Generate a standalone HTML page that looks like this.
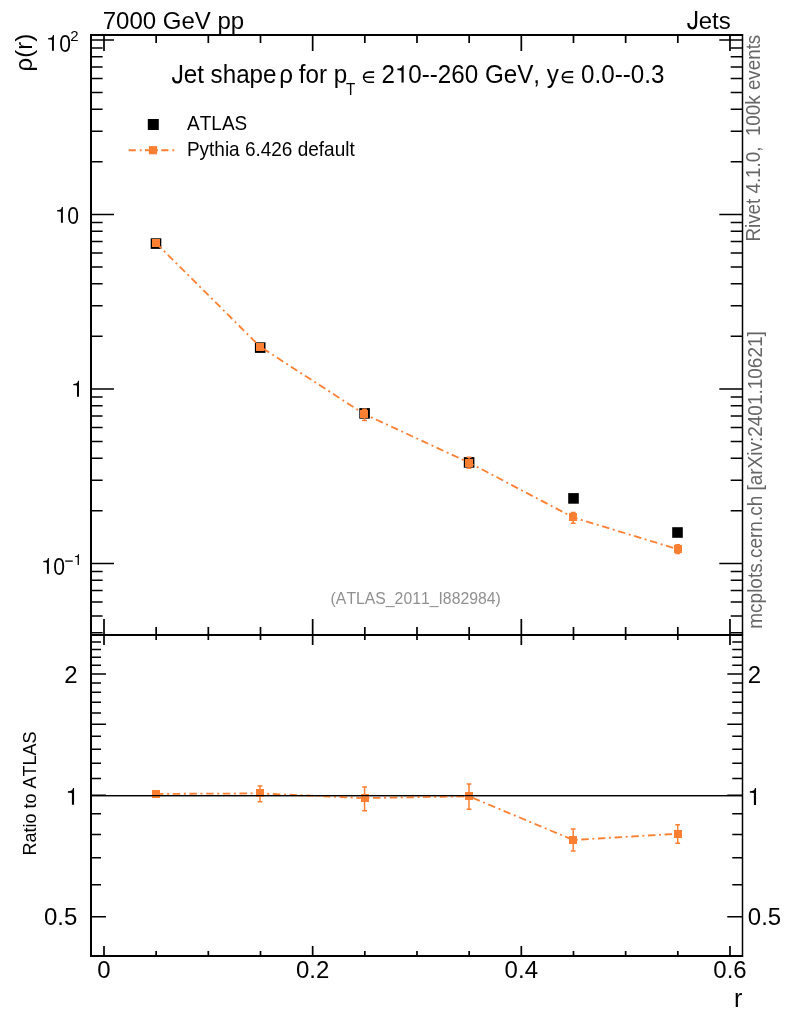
<!DOCTYPE html>
<html><head><meta charset="utf-8"><style>
html,body{margin:0;padding:0;background:#fff;}
body{width:786px;height:1024px;overflow:hidden;}
svg{display:block;font-family:"Liberation Sans",sans-serif;will-change:transform;font-kerning:none;}
</style></head><body>
<svg width="786" height="1024" viewBox="0 0 786 1024">
<rect width="786" height="1024" fill="#fff"/>
<path d="M90.0,35.0H743.05M90.0,635.0H743.05M90.0,956.0H743.05M91.0,34.0V957.0" fill="none" stroke="#000" stroke-width="2.0"/>
<path d="M742.5,34.0V957.0" fill="none" stroke="#000" stroke-width="1.5"/>
<path d="M91.0,632.84H102.6M742.3,632.84H730.6999999999999M91.0,615.93H102.6M742.3,615.93H730.6999999999999M91.0,602.11H102.6M742.3,602.11H730.6999999999999M91.0,590.43H102.6M742.3,590.43H730.6999999999999M91.0,580.31H102.6M742.3,580.31H730.6999999999999M91.0,571.38H102.6M742.3,571.38H730.6999999999999M91.0,563.40H114.0M742.3,563.40H719.3M91.0,510.87H102.6M742.3,510.87H730.6999999999999M91.0,480.14H102.6M742.3,480.14H730.6999999999999M91.0,458.34H102.6M742.3,458.34H730.6999999999999M91.0,441.43H102.6M742.3,441.43H730.6999999999999M91.0,427.61H102.6M742.3,427.61H730.6999999999999M91.0,415.93H102.6M742.3,415.93H730.6999999999999M91.0,405.81H102.6M742.3,405.81H730.6999999999999M91.0,396.88H102.6M742.3,396.88H730.6999999999999M91.0,388.90H114.0M742.3,388.90H719.3M91.0,336.37H102.6M742.3,336.37H730.6999999999999M91.0,305.64H102.6M742.3,305.64H730.6999999999999M91.0,283.84H102.6M742.3,283.84H730.6999999999999M91.0,266.93H102.6M742.3,266.93H730.6999999999999M91.0,253.11H102.6M742.3,253.11H730.6999999999999M91.0,241.43H102.6M742.3,241.43H730.6999999999999M91.0,231.31H102.6M742.3,231.31H730.6999999999999M91.0,222.38H102.6M742.3,222.38H730.6999999999999M91.0,214.40H114.0M742.3,214.40H719.3M91.0,161.87H102.6M742.3,161.87H730.6999999999999M91.0,131.14H102.6M742.3,131.14H730.6999999999999M91.0,109.34H102.6M742.3,109.34H730.6999999999999M91.0,92.43H102.6M742.3,92.43H730.6999999999999M91.0,78.61H102.6M742.3,78.61H730.6999999999999M91.0,66.93H102.6M742.3,66.93H730.6999999999999M91.0,56.81H102.6M742.3,56.81H730.6999999999999M91.0,47.88H102.6M742.3,47.88H730.6999999999999M91.0,39.90H114.0M742.3,39.90H719.3M91.0,916.71H106.0M742.3,916.71H727.3M91.0,884.77H101.0M742.3,884.77H732.3M91.0,857.77H101.0M742.3,857.77H732.3M91.0,834.38H101.0M742.3,834.38H732.3M91.0,813.75H101.0M742.3,813.75H732.3M91.0,795.30H106.0M742.3,795.30H727.3M91.0,778.61H101.0M742.3,778.61H732.3M91.0,763.37H101.0M742.3,763.37H732.3M91.0,749.35H101.0M742.3,749.35H732.3M91.0,736.37H101.0M742.3,736.37H732.3M91.0,724.28H106.0M742.3,724.28H727.3M91.0,712.98H101.0M742.3,712.98H732.3M91.0,702.36H101.0M742.3,702.36H732.3M91.0,692.35H101.0M742.3,692.35H732.3M91.0,682.88H101.0M742.3,682.88H732.3M91.0,673.89H106.0M742.3,673.89H727.3M91.0,665.35H101.0M742.3,665.35H732.3M91.0,657.20H101.0M742.3,657.20H732.3M91.0,649.42H101.0M742.3,649.42H732.3M91.0,641.96H101.0M742.3,641.96H732.3" fill="none" stroke="#000" stroke-width="1.5"/>
<path d="M104.00,35.0V51.0M104.00,635.0V619.0M104.00,635.0V645.0M104.00,956.0V946.0M156.16,35.0V43.0M156.16,635.0V627.0M156.16,635.0V640.0M156.16,956.0V951.0M208.33,35.0V43.0M208.33,635.0V627.0M208.33,635.0V640.0M208.33,956.0V951.0M260.50,35.0V43.0M260.50,635.0V627.0M260.50,635.0V640.0M260.50,956.0V951.0M312.66,35.0V51.0M312.66,635.0V619.0M312.66,635.0V645.0M312.66,956.0V946.0M364.82,35.0V43.0M364.82,635.0V627.0M364.82,635.0V640.0M364.82,956.0V951.0M416.99,35.0V43.0M416.99,635.0V627.0M416.99,635.0V640.0M416.99,956.0V951.0M469.16,35.0V43.0M469.16,635.0V627.0M469.16,635.0V640.0M469.16,956.0V951.0M521.32,35.0V51.0M521.32,635.0V619.0M521.32,635.0V645.0M521.32,956.0V946.0M573.49,35.0V43.0M573.49,635.0V627.0M573.49,635.0V640.0M573.49,956.0V951.0M625.65,35.0V43.0M625.65,635.0V627.0M625.65,635.0V640.0M625.65,956.0V951.0M677.82,35.0V43.0M677.82,635.0V627.0M677.82,635.0V640.0M677.82,956.0V951.0M729.98,35.0V51.0M729.98,635.0V619.0M729.98,635.0V645.0M729.98,956.0V946.0" fill="none" stroke="#000" stroke-width="1.7"/>
<path d="M91.0,795.65H742.3" stroke="#000" stroke-width="1.3"/>
<rect x="150.70" y="238.30" width="10.6" height="10.6" fill="#000"/>
<rect x="254.90" y="342.30" width="10.6" height="10.6" fill="#000"/>
<rect x="359.30" y="408.10" width="10.6" height="10.6" fill="#000"/>
<rect x="463.80" y="457.10" width="10.6" height="10.6" fill="#000"/>
<rect x="568.20" y="493.10" width="10.6" height="10.6" fill="#000"/>
<rect x="672.20" y="527.20" width="10.6" height="10.6" fill="#000"/>
<polyline points="156,243.0 260,346.6 364.5,414.2 469,462.6 573.2,517.4 677.7,549.2" fill="none" stroke="#fd7f31" stroke-width="1.8" stroke-dasharray="7.5 3.6 2 3.6"/>
<path d="M364.5,409.3V420.5M362.10,409.3H366.90M362.10,420.5H366.90M469,457.3V468.2M466.60,457.3H471.40M466.60,468.2H471.40M573.2,512.6V523.3M570.80,512.6H575.60M570.80,523.3H575.60M677.7,544.8V553.6M675.30,544.8H680.10M675.30,553.6H680.10" fill="none" stroke="#fd7f31" stroke-width="1.5"/>
<rect x="152" y="239" width="8" height="8" fill="#fd7f31"/>
<rect x="256" y="343" width="8" height="8" fill="#fd7f31"/>
<rect x="360" y="410" width="8" height="8" fill="#fd7f31"/>
<rect x="465" y="459" width="8" height="8" fill="#fd7f31"/>
<rect x="569" y="513" width="8" height="8" fill="#fd7f31"/>
<rect x="674" y="545" width="8" height="8" fill="#fd7f31"/>
<polyline points="156,793.9 260,793.4 364.6,798.1 469,796.3 573.2,840.0 677.7,833.7" fill="none" stroke="#fd7f31" stroke-width="1.8" stroke-dasharray="7.5 3.6 2 3.6"/>
<path d="M260,786V801.8M257.60,786H262.40M257.60,801.8H262.40M364.6,787V810.8M362.20,787H367.00M362.20,810.8H367.00M469,784V809.2M466.60,784H471.40M466.60,809.2H471.40M573.2,829.1V851.1M570.80,829.1H575.60M570.80,851.1H575.60M677.7,824.8V843.2M675.30,824.8H680.10M675.30,843.2H680.10" fill="none" stroke="#fd7f31" stroke-width="1.5"/>
<rect x="152" y="790" width="8" height="8" fill="#fd7f31"/>
<rect x="256" y="789" width="8" height="8" fill="#fd7f31"/>
<rect x="361" y="794" width="8" height="8" fill="#fd7f31"/>
<rect x="465" y="792" width="8" height="8" fill="#fd7f31"/>
<rect x="569" y="836" width="8" height="8" fill="#fd7f31"/>
<rect x="674" y="830" width="8" height="8" fill="#fd7f31"/>
<path d="M91.0,795.65H742.3" stroke="#000" stroke-width="1.3"/>
<rect x="147.8" y="119.0" width="11" height="11" fill="#000"/>
<path d="M128.7,150.2H175.5" stroke="#fd7f31" stroke-width="2" stroke-dasharray="7.1 4 1.8 3.4"/>
<rect x="148.9" y="146.1" width="8.2" height="8.2" fill="#fd7f31"/>
<text transform="translate(187.1,129.6) scale(1,1.03)" font-size="19" text-anchor="start" fill="#000" >ATLAS</text>
<text transform="translate(186.9,155.6) scale(1,1.03)" font-size="19" text-anchor="start" fill="#000" >Pythia 6.426 default</text>
<text transform="translate(102.7,28.7) scale(1,1.03)" font-size="24" text-anchor="start" fill="#000" >7000 GeV pp</text>
<path d="M180.96,64.96V76.91C180.96,81.75 178.54,82.47 177.33,82.47C174.91,82.47 173.15,80.78 173.15,77.27" fill="none" stroke="#000" stroke-width="2.27"/>
<text transform="translate(183.72,83.2) scale(1,1.03)" font-size="24.2" text-anchor="start" fill="#000" >et shape</text>
<text transform="translate(279.3,83.2) scale(1,1.03)" font-size="24.2" text-anchor="start" fill="#000" >&#961;</text>
<text transform="translate(298.86,83.2) scale(1,1.03)" font-size="24.2" text-anchor="start" fill="#000" >for</text>
<text transform="translate(333.64,83.2) scale(1,1.03)" font-size="24.2" text-anchor="start" fill="#000" >p</text>
<text transform="translate(346.06,95.2) scale(1,1.03)" font-size="15.2" text-anchor="start" fill="#000" >T</text>
<path d="M374.1,72.1H368.6A5.05,5.05 0 0 0 368.6,82.2H374.1M363.2,77.2H374.1" fill="none" stroke="#000" stroke-width="1.6"/>
<text transform="translate(381.38,83.2) scale(1,1.03)" font-size="24.2" text-anchor="start" fill="#000" >2</text>
<path d="M403.66,82.60V65.30H402.57C402.33,67.89 400.51,68.59 397.42,68.59V70.14C399.79,70.28 401.00,70.37 401.48,70.75V82.60Z" fill="#000"/>
<text transform="translate(408.294,83.2) scale(1,1.03)" font-size="24.2" text-anchor="start" fill="#000" >0--260 GeV, y</text>
<path d="M573.2,71.9H567.6A5.2,5.2 0 0 0 567.6,82.4H573.2M562.2,77.2H573.2" fill="none" stroke="#000" stroke-width="1.6"/>
<text transform="translate(581.05,83.2) scale(1,1.03)" font-size="24.2" text-anchor="start" fill="#000" >0.0--0.3</text>
<path d="M696.10,10.93V22.76C696.10,27.56 693.70,28.28 692.50,28.28C690.10,28.28 688.35,26.60 688.35,23.12" fill="none" stroke="#000" stroke-width="2.26"/>
<text transform="translate(730.7,29.0) scale(1,1.03)" font-size="24" text-anchor="end" fill="#000" >ets</text>
<text x="0" y="0" font-size="24" text-anchor="end" fill="#000" transform="translate(32,33.8) rotate(-90) scale(1,1.03)">&#961;(r)</text>
<text x="0" y="0" font-size="18" text-anchor="middle" fill="#000" transform="translate(36.4,793.6) rotate(-90) scale(1,1.03)">Ratio to ATLAS</text>
<text transform="translate(742.4,1007) scale(1,1.03)" font-size="25" text-anchor="end" fill="#000" >r</text>
<text transform="translate(67.28,224.0) scale(0.88,1.0)" font-size="24">0</text>
<text transform="translate(59.23,51.9) scale(0.88,1.0)" font-size="24">0</text>
<text transform="translate(70.25,40.8) scale(1,1.03)" font-size="15" text-anchor="start" fill="#000" >2</text>
<text transform="translate(53.28,575.0) scale(0.88,1.0)" font-size="24">0</text>
<rect x="65.2" y="560.45" width="7.6" height="1.3" fill="#000"/>
<text transform="translate(77.5,683) scale(1,1.03)" font-size="24" text-anchor="end" fill="#000" >2</text>
<text transform="translate(77.3,925.3) scale(1,1.03)" font-size="24" text-anchor="end" fill="#000" >0.5</text>
<text transform="translate(747.8,683) scale(1,1.03)" font-size="24" text-anchor="start" fill="#000" >2</text>
<text transform="translate(747.8,925.3) scale(1,1.03)" font-size="24" text-anchor="start" fill="#000" >0.5</text>
<path d="M62.88,222.80V206.96H61.89C61.67,209.34 60.02,209.97 57.20,209.97V211.40C59.36,211.52 60.46,211.60 60.90,211.95V222.80ZM78.98,396.87V380.83H77.99C77.77,383.24 76.12,383.88 73.30,383.88V385.32C75.46,385.45 76.56,385.53 77.00,385.88V396.87ZM53.92,50.87V34.96H52.93C52.71,37.35 51.06,37.98 48.24,37.98V39.41C50.40,39.54 51.50,39.62 51.94,39.97V50.87ZM48.90,573.72V557.94H47.91C47.69,560.31 46.04,560.94 43.22,560.94V562.36C45.38,562.48 46.48,562.56 46.92,562.91V573.72ZM78.92,564.89V554.07H78.23C78.07,555.69 76.92,556.13 74.95,556.13V557.10C76.46,557.19 77.23,557.24 77.62,557.48V564.89ZM74.07,804.86V788.00H72.99C72.75,790.53 70.95,791.20 67.88,791.20V792.72C70.23,792.86 71.43,792.94 71.91,793.31V804.86ZM756.05,804.90V788.00H754.97C754.73,790.53 752.93,791.21 749.86,791.21V792.73C752.21,792.87 753.41,792.95 753.89,793.32V804.90Z" fill="#000"/>
<text transform="translate(104.0,978.1) scale(1,1.03)" font-size="24" text-anchor="middle" fill="#000" >0</text>
<text transform="translate(312.7,978.1) scale(1,1.03)" font-size="24" text-anchor="middle" fill="#000" >0.2</text>
<text transform="translate(521.3,978.1) scale(1,1.03)" font-size="24" text-anchor="middle" fill="#000" >0.4</text>
<text transform="translate(730.0,978.1) scale(1,1.03)" font-size="24" text-anchor="middle" fill="#000" >0.6</text>
<text transform="translate(330.59999999999997,603.8) scale(1,1.03)" font-size="15.8" text-anchor="start" fill="#909090" >(ATLAS_2011_I882984)</text>
<text x="0" y="0" font-size="18.8" text-anchor="start" fill="#666666" transform="translate(760,241.6) rotate(-90) scale(1,1.03)" xml:space="preserve" style="white-space:pre">Rivet 4.1.0,  100k events</text>
<text x="0" y="0" font-size="19" text-anchor="start" fill="#666666" transform="translate(762,628.7) rotate(-90) scale(1,1.03)">mcplots.cern.ch [arXiv:2401.10621]</text>
</svg>
</body></html>
